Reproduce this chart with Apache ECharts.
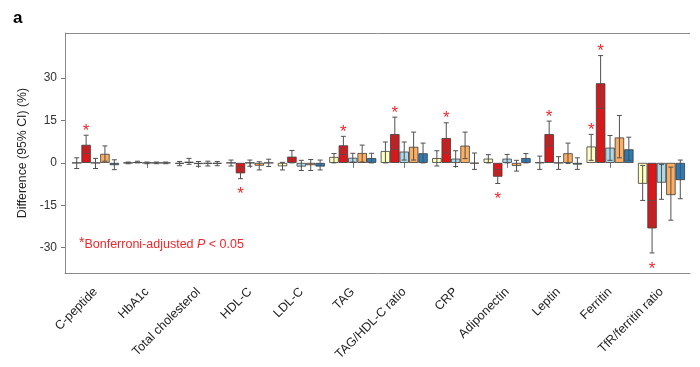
<!DOCTYPE html>
<html>
<head>
<meta charset="utf-8">
<script src="https://cdn.jsdelivr.net/npm/echarts@6/dist/echarts.min.js"></script>
<style>
html,body{margin:0;padding:0;background:#fff;}
#chart{width:700px;height:367px;}
</style>
</head>
<body>
<div id="chart"></div>
<script>
const categories = ['C-peptide','HbA1c','Total cholesterol','HDL-C','LDL-C','TAG','TAG/HDL-C ratio','CRP','Adiponectin','Leptin','Ferritin','TfR/ferritin ratio'];
const yTicks = [-30, -15, 0, 15, 30];

const yellowVal = [0, 0, -0.3, 0, -1.2, 2.1, 4.2, 1.7, 1.5, 0.1, 5.8, -7.4];
const yellowLo  = [-2.0, -0.3, -1.0, -1.1, -2.5, 0, 0, -1.1, 0, -2.3, 0.9, -13.3];
const yellowHi  = [1.8, 0.3, 0.5, 1.0, 0.2, 3.3, 7.4, 4.3, 2.9, 2.4, 10.1, -0.9];
const yellowSig = [0,0,0,0,0,0,0,0,0,0,1,0];

const redVal = [6.4, 0.3, 0.4, -3.7, 2.2, 6.2, 10.2, 8.8, -4.9, 10.2, 28.2, -23.2];
const redLo  = [3.3, 0, -0.5, -5.6, 0, 3.0, 4.8, 3.5, -7.3, 6.0, 19.3, -31.9];
const redHi  = [9.8, 0.6, 1.6, -1.5, 4.4, 9.4, 16.2, 14.2, -2.3, 14.8, 38.0, -13.3];
const redSig = [1,0,0,1,0,1,1,1,1,1,1,1];

const lightBlueVal = [0, 0, -0.4, 0, -1.3, 1.8, 4.0, 1.5, 1.5, 0, 5.4, -7.0];
const lightBlueLo  = [-2.0, -0.3, -1.2, -1.2, -2.7, 0.3, 1.0, -1.3, 0, -2.3, 0.9, -12.9];
const lightBlueHi  = [1.6, 0.3, 0.5, 1.0, 0.9, 3.4, 7.4, 4.3, 3.0, 2.2, 9.7, -0.6];
const lightBlueSig = [0,0,0,0,0,0,0,0,0,0,0,0];

const orangeVal = [3.2, 0, -0.3, -1.0, -0.8, 3.5, 5.7, 6.1, -1.1, 3.4, 9.0, -11.4];
const orangeLo  = [0.6, -0.3, -1.1, -2.5, -2.7, 0.3, 1.0, 1.5, -2.9, -0.2, 1.8, -20.3];
const orangeHi  = [6.0, 0.3, 0.6, 0.4, 1.2, 6.3, 10.9, 10.9, 0.9, 7.0, 16.8, -1.5];
const orangeSig = [0,0,0,0,0,0,0,0,0,0,0,0];

const blueVal = [-0.8, 0, -0.3, 0, -1.3, 1.7, 3.4, -0.2, 1.7, -0.6, 4.8, -6.1];
const blueLo  = [-2.4, -0.3, -1.0, -1.3, -2.5, 0, 0, -2.3, 0, -2.3, 0.9, -12.7];
const blueHi  = [1.1, 0.3, 0.5, 1.3, 1.0, 3.4, 7.0, 3.5, 3.3, 1.8, 9.1, 1.0];
const blueSig = [0,0,0,0,0,0,0,0,0,0,0,0];

const groups = [
  {name:'Group 1', color:'#ffffbf', val:yellowVal, lo:yellowLo, hi:yellowHi, sig:yellowSig},
  {name:'Group 2', color:'#d7191c', val:redVal, lo:redLo, hi:redHi, sig:redSig},
  {name:'Group 3', color:'#abd9e9', val:lightBlueVal, lo:lightBlueLo, hi:lightBlueHi, sig:lightBlueSig},
  {name:'Group 4', color:'#fdae61', val:orangeVal, lo:orangeLo, hi:orangeHi, sig:orangeSig},
  {name:'Group 5', color:'#2c7bb6', val:blueVal, lo:blueLo, hi:blueHi, sig:blueSig}
];

const FONT = 'Liberation Sans, Arial, sans-serif';
const GAP = 0.086;
const N = groups.length;
const Y_MIN = -39, Y_MAX = 46;

const series = [];
groups.forEach((g, k) => {
  series.push({
    name: g.name, type: 'bar', xAxisIndex: 1, yAxisIndex: 1,
    data: g.val, barGap: '0%', barCategoryGap: (GAP*100)+'%',
    itemStyle: {color: g.color, borderColor: '#3a3a3a', borderWidth: 0.8},
    silent: true, z: 2
  });
});
groups.forEach((g, k) => {
  series.push({
    type: 'custom', xAxisIndex: 1, yAxisIndex: 1, z: 5, silent: true,
    data: g.val.map((v, i) => [i, g.lo[i], g.hi[i], g.sig[i]]),
    renderItem: function (params, api) {
      const idx = api.value(0), lo = api.value(1), hi = api.value(2), sig = api.value(3);
      const band = api.size([1, 0])[0];
      const bw = band * (1 - GAP) / N;
      const cx = api.coord([idx, 0])[0] + (k - (N - 1) / 2) * bw;
      const yl = api.coord([idx, lo])[1];
      const yh = api.coord([idx, hi])[1];
      const cap = 2.5;
      const st = {stroke: '#505050', lineWidth: 1};
      const children = [
        {type:'line', shape:{x1:cx, y1:yl, x2:cx, y2:yh}, style:st},
        {type:'line', shape:{x1:cx-cap, y1:yl, x2:cx+cap, y2:yl}, style:st},
        {type:'line', shape:{x1:cx-cap, y1:yh, x2:cx+cap, y2:yh}, style:st}
      ];
      if (sig) {
        const v = g.val[idx];
        const ty = v >= 0 ? yh - 4 : yl + 16;
        children.push({type:'text', style:{text:'*', x:cx, y:ty, fill:'#f0262b', font:'17px ' + FONT, align:'center', verticalAlign:'middle'}});
      }
      return {type:'group', children: children};
    }
  });
});

const chart = echarts.init(document.getElementById('chart'), null, {renderer:'canvas'});
chart.setOption({
  animation: false,
  backgroundColor: '#fff',
  textStyle: {fontFamily: FONT},
  grid: [
    {left: 65, right: 10, top: 33, bottom: 94, containLabel: false},
    {left: 69.8, right: 12.8, top: 33, bottom: 94, containLabel: false}
  ],
  xAxis: [
    {type:'category', gridIndex:0, data: categories, position:'bottom',
     axisLine:{show:true, onZero:false, lineStyle:{color:'#8a8a8a', width:1}},
     axisTick:{show:false}, axisLabel:{show:false}, splitLine:{show:false}},
    {type:'category', gridIndex:1, data: categories, position:'bottom',
     axisLine:{show:false}, axisTick:{show:true, alignWithLabel:true, length:5, lineStyle:{color:'#777'}},
     axisLabel:{show:true, rotate:45, margin:17, fontSize:12.5, color:'#222', fontFamily: FONT, interval:0},
     splitLine:{show:false}}
  ],
  yAxis: [
    {type:'value', gridIndex:0, min:Y_MIN, max:Y_MAX,
     name:'Difference (95% CI) (%)', nameLocation:'middle', nameGap:36, nameRotate:90,
     nameTextStyle:{fontSize:12.3, color:'#222', fontFamily: FONT},
     axisLine:{show:true, onZero:false, lineStyle:{color:'#8a8a8a', width:1}},
     axisTick:{show:true, length:4, lineStyle:{color:'#777'}, customValues: yTicks},
     axisLabel:{show:true, fontSize:12, color:'#333', margin:8, fontFamily: FONT, customValues: yTicks},
     splitLine:{show:false}},
    {type:'value', gridIndex:1, min:Y_MIN, max:Y_MAX, show:false}
  ],
  series: series,
  graphic: [
    {type:'line', shape:{x1:65, y1:33.5, x2:690, y2:33.5}, style:{stroke:'#8a8a8a', lineWidth:1}, silent:true},
    {type:'text', left:13, top:10, style:{text:'a', font:'bold 17px ' + FONT, fill:'#000'}},
    {type:'text', left:79, top:236, style:{
      text:'{s|*}{n|Bonferroni-adjusted }{i|P}{n| < 0.05}',
      rich:{
        s:{fontSize:14, fill:'#f0262b', fontFamily: FONT, verticalAlign:'top', padding:[0,0,4,0]},
        n:{fontSize:12.5, fill:'#f0262b', fontFamily: FONT},
        i:{fontSize:12.5, fill:'#f0262b', fontFamily: FONT, fontStyle:'italic'}
      }}}
  ]
});
</script>
</body>
</html>
